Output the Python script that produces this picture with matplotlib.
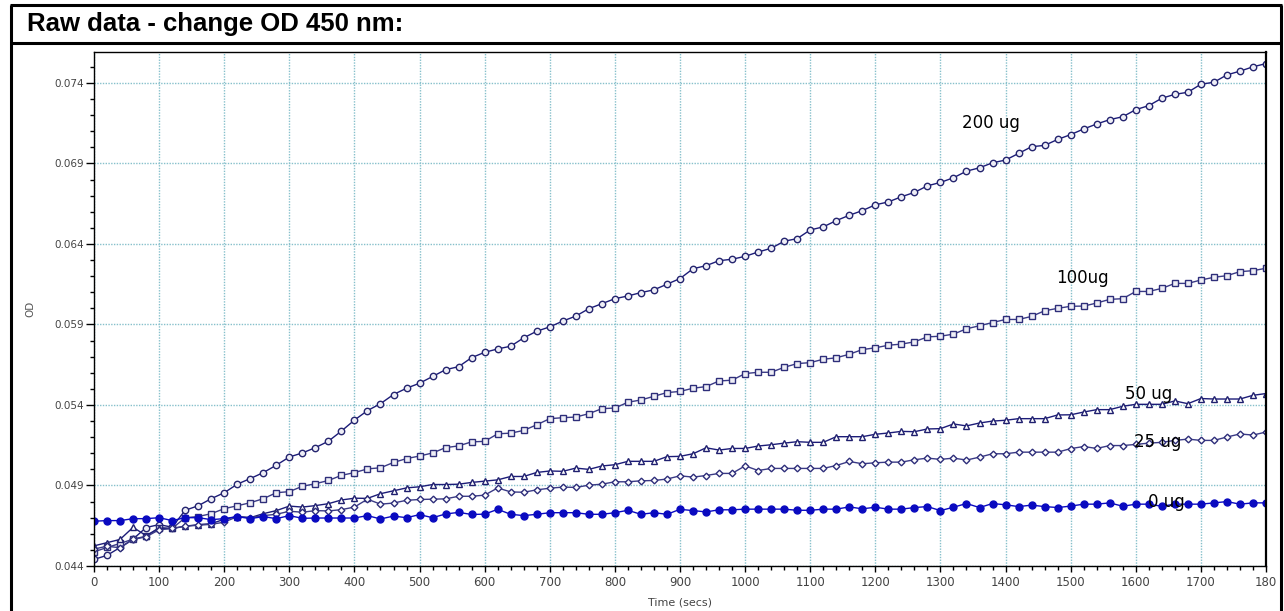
import numpy as np
import matplotlib
matplotlib.use("Agg")
import matplotlib.pyplot as plt
from matplotlib.lines import Line2D

# time axis: one reading every 20 s
time_s = np.arange(0, 1801, 20)

od_200 = [
    0.04441, 0.04466, 0.04515, 0.04567, 0.04639, 0.04657, 0.04641, 0.04746, 0.04774, 0.04818,
    0.04855, 0.04908, 0.04943, 0.04980, 0.05026, 0.05077, 0.05102, 0.05135, 0.05175, 0.05238,
    0.05306, 0.05365, 0.05408, 0.05465, 0.05504, 0.05535, 0.05577, 0.05619, 0.05638, 0.05694,
    0.05727, 0.05748, 0.05765, 0.05817, 0.05858, 0.05885, 0.05921, 0.05952, 0.05998, 0.06029,
    0.06060, 0.06077, 0.06098, 0.06115, 0.06150, 0.06185, 0.06246, 0.06265, 0.06296, 0.06305,
    0.06323, 0.06350, 0.06373, 0.06417, 0.06433, 0.06487, 0.06506, 0.06545, 0.06578, 0.06607,
    0.06643, 0.06661, 0.06693, 0.06720, 0.06761, 0.06782, 0.06811, 0.06852, 0.06873, 0.06904,
    0.06921, 0.06962, 0.07004, 0.07012, 0.07049, 0.07079, 0.07114, 0.07145, 0.07172, 0.07190,
    0.07234, 0.07259, 0.07305, 0.07329, 0.07342, 0.07392, 0.07404, 0.07450, 0.07473, 0.07500,
    0.07520,
]
od_100 = [
    0.04488, 0.04515, 0.04540, 0.04567, 0.04585, 0.04639, 0.04633, 0.04700, 0.04707, 0.04725,
    0.04756, 0.04774, 0.04793, 0.04818, 0.04855, 0.04862, 0.04895, 0.04911, 0.04931, 0.04963,
    0.04980, 0.05003, 0.05010, 0.05043, 0.05067, 0.05083, 0.05102, 0.05135, 0.05146, 0.05171,
    0.05174, 0.05221, 0.05225, 0.05242, 0.05277, 0.05315, 0.05321, 0.05325, 0.05346, 0.05377,
    0.05381, 0.05417, 0.05431, 0.05454, 0.05477, 0.05484, 0.05504, 0.05514, 0.05549, 0.05554,
    0.05595, 0.05603, 0.05603, 0.05634, 0.05657, 0.05663, 0.05684, 0.05693, 0.05715, 0.05744,
    0.05755, 0.05771, 0.05778, 0.05792, 0.05823, 0.05827, 0.05840, 0.05873, 0.05892, 0.05912,
    0.05931, 0.05931, 0.05950, 0.05985, 0.06000, 0.06013, 0.06014, 0.06033, 0.06056, 0.06060,
    0.06105, 0.06105, 0.06124, 0.06155, 0.06155, 0.06176, 0.06193, 0.06203, 0.06228, 0.06234,
    0.06249,
]
od_50 = [
    0.04525, 0.04545, 0.04565, 0.04640, 0.04589, 0.04633, 0.04633, 0.04647, 0.04657, 0.04663,
    0.04690, 0.04707, 0.04700, 0.04725, 0.04744, 0.04772, 0.04766, 0.04775, 0.04787, 0.04810,
    0.04821, 0.04820, 0.04849, 0.04867, 0.04885, 0.04892, 0.04906, 0.04906, 0.04908, 0.04919,
    0.04927, 0.04935, 0.04956, 0.04956, 0.04981, 0.04990, 0.04988, 0.05008, 0.05000, 0.05021,
    0.05029, 0.05050, 0.05050, 0.05050, 0.05079, 0.05081, 0.05097, 0.05134, 0.05120, 0.05130,
    0.05130, 0.05145, 0.05153, 0.05163, 0.05172, 0.05168, 0.05168, 0.05203, 0.05203, 0.05203,
    0.05218, 0.05226, 0.05236, 0.05234, 0.05251, 0.05253, 0.05282, 0.05270, 0.05288, 0.05300,
    0.05305, 0.05315, 0.05315, 0.05315, 0.05338, 0.05339, 0.05356, 0.05371, 0.05371, 0.05392,
    0.05404, 0.05404, 0.05404, 0.05425, 0.05408, 0.05440, 0.05437, 0.05437, 0.05437, 0.05460,
    0.05471,
]
od_25 = [
    0.04505, 0.04523, 0.04513, 0.04565, 0.04581, 0.04625, 0.04633, 0.04647, 0.04653, 0.04659,
    0.04672, 0.04707, 0.04700, 0.04713, 0.04721, 0.04740, 0.04734, 0.04744, 0.04742, 0.04750,
    0.04766, 0.04815, 0.04784, 0.04791, 0.04808, 0.04813, 0.04815, 0.04817, 0.04833, 0.04833,
    0.04840, 0.04885, 0.04860, 0.04858, 0.04873, 0.04883, 0.04890, 0.04888, 0.04902, 0.04908,
    0.04923, 0.04923, 0.04929, 0.04931, 0.04940, 0.04960, 0.04952, 0.04962, 0.04975, 0.04975,
    0.05022, 0.04993, 0.05006, 0.05006, 0.05006, 0.05006, 0.05006, 0.05024, 0.05049, 0.05035,
    0.05041, 0.05045, 0.05045, 0.05060, 0.05070, 0.05062, 0.05070, 0.05058, 0.05076, 0.05097,
    0.05097, 0.05107, 0.05107, 0.05107, 0.05107, 0.05129, 0.05142, 0.05130, 0.05148, 0.05148,
    0.05155, 0.05163, 0.05168, 0.05180, 0.05188, 0.05180, 0.05180, 0.05201, 0.05220, 0.05213,
    0.05232,
]
od_0 = [
    0.04678, 0.04682, 0.04682, 0.04694, 0.04694, 0.04700, 0.04682, 0.04700, 0.04700, 0.04688,
    0.04694, 0.04707, 0.04694, 0.04707, 0.04694, 0.04713, 0.04696, 0.04698, 0.04698, 0.04698,
    0.04698, 0.04713, 0.04692, 0.04710, 0.04700, 0.04719, 0.04700, 0.04723, 0.04733, 0.04720,
    0.04722, 0.04752, 0.04721, 0.04713, 0.04721, 0.04731, 0.04731, 0.04731, 0.04721, 0.04721,
    0.04731, 0.04746, 0.04721, 0.04731, 0.04721, 0.04752, 0.04744, 0.04736, 0.04749, 0.04749,
    0.04753, 0.04753, 0.04753, 0.04753, 0.04746, 0.04746, 0.04753, 0.04753, 0.04767, 0.04755,
    0.04765, 0.04753, 0.04753, 0.04763, 0.04769, 0.04744, 0.04765, 0.04788, 0.04763, 0.04788,
    0.04780, 0.04769, 0.04778, 0.04769, 0.04763, 0.04772, 0.04784, 0.04784, 0.04792, 0.04771,
    0.04784, 0.04784, 0.04771, 0.04784, 0.04784, 0.04784, 0.04792, 0.04800, 0.04784, 0.04792,
    0.04792,
]

labels = ["200 ug", "100ug", "50 ug", "25 ug", "0 ug"]
label_t = [1378, 1518, 1620, 1633, 1647]
label_od = [0.07149, 0.06189, 0.05468, 0.05172, 0.04800]

y_ticks = [0.044, 0.049, 0.054, 0.059, 0.064, 0.069, 0.074]
x_ticks = list(range(0, 1801, 100))
x_ticklabels = [str(t) for t in x_ticks[:-1]] + ["180"]

W, H = 1284, 611
fig = plt.figure(figsize=(W / 100, H / 100), dpi=100)
fig.patch.set_facecolor("white")

# frame around the whole panel + title row
frame_kw = dict(color="black", lw=2.2, transform=fig.transFigure, solid_capstyle="butt")
fig.add_artist(Line2D([11 / W, 11 / W], [0, 1 - 5 / H], **frame_kw))
fig.add_artist(Line2D([1281 / W, 1281 / W], [0, 1 - 5 / H], **frame_kw))
fig.add_artist(Line2D([10 / W, 1282 / W], [1 - 5 / H, 1 - 5 / H], **frame_kw))
fig.add_artist(Line2D([10 / W, 1282 / W], [1 - 43 / H, 1 - 43 / H], **frame_kw))
fig.text(27 / W, 1 - 24 / H, "Raw data - change OD 450 nm:", fontsize=18.5,
         fontweight="bold", family="Liberation Sans", va="center", ha="left")

ax = fig.add_axes([94 / W, 45 / H, (1266 - 94) / W, (566 - 52) / H])

navy = "#1c1c78"
series = [
    (od_200, "o", 4.6, navy, "#eeeef6", "#25256f"),
    (od_100, "s", 4.2, "#3a3a86", "#eeeef6", "#2e2e7a"),
    (od_50, "^", 4.8, navy, "white", "#20206f"),
    (od_25, "D", 3.4, "#3a3a86", "white", "#2e2e7a"),
    (od_0, "o", 5.0, "#0a0ac0", "#0a0ac0", "#0a0ac0"),
]
for vals, mk, ms, lc, fc, ec in series:
    ax.plot(time_s, vals, color=lc, lw=1.0, marker=mk, markersize=ms,
            markerfacecolor=fc, markeredgecolor=ec, markeredgewidth=1.0)

for txt, t, od in zip(labels, label_t, label_od):
    ax.text(t, od, txt, fontsize=12, ha="center", va="center", color="black",
            family="DejaVu Sans")

ax.set_xlim(0, 1800)
ax.set_ylim(0.044, 0.07592)
ax.set_xticks(x_ticks)
ax.set_xticklabels(x_ticklabels)
ax.set_xticks(range(0, 1801, 20), minor=True)
ax.set_yticks(y_ticks)
ax.set_yticklabels([f"{v:.3f}" for v in y_ticks])
ax.set_yticks(np.arange(0.044, 0.0759, 0.001), minor=True)

ax.grid(True, which="major", color="#86c0cb", linestyle=(0, (1, 1)), lw=1.0)
ax.set_axisbelow(True)

ax.tick_params(axis="x", which="major", length=4, width=1, labelsize=8.5,
               labelcolor="#444444", pad=3)
ax.tick_params(axis="x", which="minor", length=3, width=1)
ax.tick_params(axis="y", which="major", length=6, width=1, labelsize=7.5,
               labelcolor="#444444", pad=1)
ax.tick_params(axis="y", which="minor", length=3, width=1)

for sp in ax.spines.values():
    sp.set_color("black")
    sp.set_linewidth(1.0)
ax.spines["right"].set_linewidth(1.6)

ax.set_xlabel("Time (secs)", fontsize=8, color="#444444", labelpad=6)
ax.set_ylabel("OD", fontsize=7.5, color="#555555", labelpad=14)

fig.savefig("out.png", dpi=100)
